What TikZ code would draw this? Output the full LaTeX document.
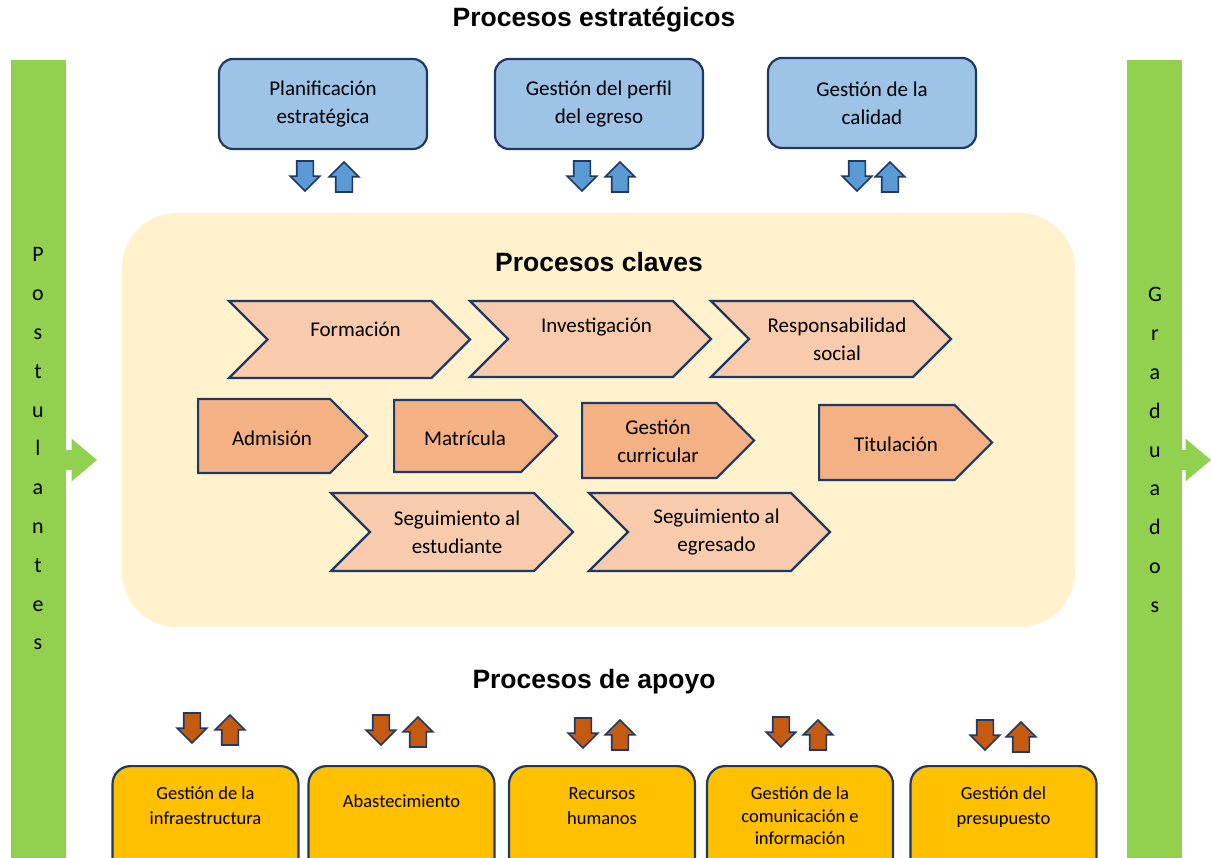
\documentclass[tikz,border=0pt]{standalone}
\usepackage{fontspec}
\setmainfont{Carlito}
\newfontfamily\titlefont{Liberation Sans}
\usetikzlibrary{shapes.arrows,shapes.symbols,positioning}

\definecolor{navy}{HTML}{1F3864}
\definecolor{barra}{HTML}{92D050}
\definecolor{azulcaja}{HTML}{9DC3E6}
\definecolor{azulflecha}{HTML}{5B9BD5}
\definecolor{crema}{HTML}{FFF2CC}
\definecolor{salmon}{HTML}{F8CBAD}
\definecolor{naranja}{HTML}{F4B183}
\definecolor{oro}{HTML}{FFC000}
\definecolor{cafe}{HTML}{C55A11}

\begin{document}
\begin{tikzpicture}[x=1pt,y=-1pt,
  titulo/.style={font=\titlefont\bfseries\fontsize{26.5}{30}\selectfont},
  estrat/.style={draw=navy,fill=azulcaja,line width=2.2pt,rounded corners=14pt,
    minimum width=208,minimum height=90,align=center,
    font=\fontsize{21}{28}\selectfont},
  chevron/.style={signal,signal from=west,signal to=east,signal pointer angle=90,
    draw=navy,fill=salmon,line width=2.2pt,inner sep=0},
  penta/.style={signal,signal to=east,signal pointer angle=90,anchor=west,
    draw=navy,fill=naranja,line width=2.2pt,inner sep=0},
  clave/.style={align=center,inner sep=0,font=\fontsize{21}{28}\selectfont},
  flecha/.style={single arrow,minimum height=30,text height=15pt,text depth=0pt,
    single arrow head extend=6.5,inner sep=0,outer sep=0,line width=1.6pt,
    draw=navy,anchor=tail},
  baja/.style={flecha,rotate=-90},
  sube/.style={flecha,rotate=90},
  apoyo/.style={draw=navy,fill=oro,line width=2.2pt,rounded corners=18pt,
    minimum width=186,minimum height=115,anchor=north},
  apoyotxt/.style={inner sep=0,outer sep=0,align=center,
    font=\fontsize{18.5}{24.5}\selectfont},
  lateral/.style={fill=barra,minimum width=55,minimum height=800,anchor=north,inner sep=0},
  salida/.style={single arrow,fill=barra,minimum height=40,text height=20pt,
    text depth=0pt,single arrow head extend=11,single arrow tip angle=80,
    inner sep=0,outer sep=0,anchor=tip},
  letras/.style={align=center,font=\fontsize{22}{38.8}\selectfont}]

\useasboundingbox (0,0) rectangle (1211,858);
\clip (0,0) rectangle (1211,858);

% barras laterales
\node[salida] (inflecha) at (97,460) {};
\node[lateral] (postul) at (38.5,60) {};
\node[letras] at (38,449) {P\\o\\s\\t\\u\\l\\a\\n\\t\\e\\s};

\node[salida] (outflecha) at (1211,460) {};
\node[lateral] (gradu) at (1154.5,60) {};
\node[letras] at (1155,450) {G\\r\\a\\d\\u\\a\\d\\o\\s};

% procesos estrategicos
\node[titulo] (tit1) at (594,20) {Procesos estratégicos};

\node[estrat] (plan) at (323,104) {Planificación\\estratégica};
\node[estrat] (perfil) at (599,104) {Gestión del perfil\\del egreso};
\node[estrat] (calidad) at (872,103) {Gestión de la\\calidad};

\node[baja,fill=azulflecha] (p1) at (305,161) {};
\node[sube,fill=azulflecha] (p2) at (344,192) {};
\node[baja,fill=azulflecha] (g1) at (582,161) {};
\node[sube,fill=azulflecha] (g2) at (620,192) {};
\node[baja,fill=azulflecha] (c1) at (857,161) {};
\node[sube,fill=azulflecha] (c2) at (890,192) {};

% procesos claves
\node[fill=crema,rounded corners=55pt,minimum width=953,minimum height=414,
  inner sep=0] (claves) at (598.5,420) {};
\node[titulo] (tit2) at (599,262) {Procesos claves};

\node[chevron,minimum width=241,minimum height=77] (form) at (349.5,339.5) {};
\node[chevron,minimum width=241,minimum height=76] (inv) at (590.5,339) {};
\node[chevron,minimum width=240,minimum height=76] (resp) at (831,339) {};
\node[clave] at ([xshift=6pt,yshift=10pt]form.center) {Formación};
\node[clave] at ([xshift=6pt,yshift=12pt]inv.center) {Investigación};
\node[clave] at ([xshift=6pt]resp.center) {Responsabilidad\\social};

\node[penta,minimum width=169,minimum height=74] (adm) at (197,436) {};
\node[penta,minimum width=163,minimum height=72] (mat) at (393,436) {};
\node[penta,minimum width=172,minimum height=75] (curr) at (581,440.5) {};
\node[penta,minimum width=173,minimum height=75] (titu) at (818,442.5) {};
\node[clave] at (272,438) {Admisión};
\node[clave] at (465,438) {Matrícula};
\node[clave] at (658,441) {Gestión\\curricular};
\node[clave] at (896,444) {Titulación};

\node[chevron,minimum width=242,minimum height=78] (segest) at (452,532) {};
\node[chevron,minimum width=241,minimum height=78] (segegr) at (709.5,532) {};
\node[clave] at ([xshift=5pt]segest.center) {Seguimiento al\\estudiante};
\node[clave] at ([xshift=7pt]segegr.center) {Seguimiento al\\egresado};

% procesos de apoyo
\node[titulo] (tit3) at (594,682) {Procesos de apoyo};

\node[baja,fill=cafe] (i1) at (192,713) {};
\node[sube,fill=cafe] (i2) at (230,745) {};
\node[baja,fill=cafe] (a1) at (381,715) {};
\node[sube,fill=cafe] (a2) at (418,747) {};
\node[baja,fill=cafe] (r1) at (583,718) {};
\node[sube,fill=cafe] (r2) at (620,750) {};
\node[baja,fill=cafe] (m1) at (781,717) {};
\node[sube,fill=cafe] (m2) at (818,750) {};
\node[baja,fill=cafe] (s1) at (985,720) {};
\node[sube,fill=cafe] (s2) at (1021,752) {};

\node[apoyo] (infra) at (205.5,765) {};
\node[apoyo] (abas) at (401.5,765) {};
\node[apoyo] (rrhh) at (602,765) {};
\node[apoyo] (comu) at (800,765) {};
\node[apoyo] (pres) at (1003.5,765) {};

\node[apoyotxt,below=22pt of infra.north] {Gestión de la\\infraestructura};
\node[apoyotxt,below=30pt of abas.north] {Abastecimiento};
\node[apoyotxt,below=23pt of rrhh.north] {Recursos\\humanos};
\node[apoyotxt,below=22pt of comu.north,font=\fontsize{18.5}{22.5}\selectfont]
  {Gestión de la\\comunicación e\\información};
\node[apoyotxt,below=22pt of pres.north] {Gestión del\\presupuesto};
\end{tikzpicture}
\end{document}
